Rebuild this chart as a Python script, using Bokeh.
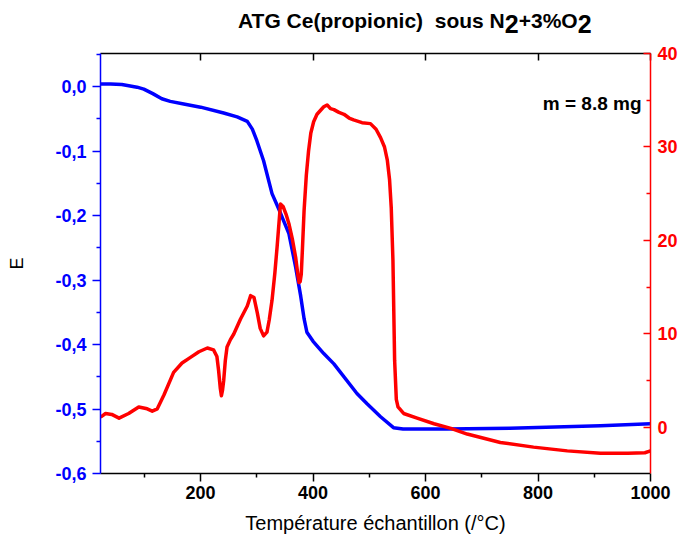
from bokeh.plotting import figure
from bokeh.models import Range1d, LinearAxis, FixedTicker, CustomJSTickFormatter, Label, Div
from bokeh.layouts import column
from bokeh.embed import file_html
from bokeh.resources import INLINE

# TGA (left axis, E)
T_tga = [22, 40, 60, 87, 99, 115, 131, 146, 170, 200, 241, 265, 283, 292, 300, 312, 327, 339,
         357, 369, 378, 384, 389, 400, 419, 437, 478, 496, 520, 543, 560, 638, 750, 911, 1000]
E_tga = [0.004, 0.004, 0.003, -0.001, -0.004, -0.011, -0.019, -0.023, -0.027, -0.032, -0.041,
         -0.047, -0.054, -0.066, -0.084, -0.115, -0.166, -0.19, -0.228, -0.28, -0.325, -0.36,
         -0.381, -0.395, -0.414, -0.43, -0.476, -0.492, -0.512, -0.529, -0.531, -0.531, -0.530,
         -0.526, -0.523]

# second signal (right axis)
T_dsc = [22, 31, 42, 55, 72, 90, 105, 114, 123, 135, 152, 167, 182, 197, 212, 223, 229, 232, 235,
         237, 239, 241, 244, 247, 253, 259, 271, 283, 289, 295, 301, 306, 312, 318, 322, 327, 332,
         336, 342, 347, 352, 357, 363, 369, 373, 375, 377, 379, 381, 384, 388, 392, 396, 401, 407,
         413, 419, 425, 431, 437, 446, 455, 464, 472, 487, 502, 512, 520, 527, 532, 536, 539, 542,
         545, 548, 551, 561, 585, 615, 645, 674, 733, 792, 852, 911, 960, 990, 1000]
R_dsc = [1.1, 1.5, 1.4, 1.0, 1.5, 2.2, 2.0, 1.75, 2.0, 3.5, 5.9, 6.9, 7.5, 8.1, 8.5, 8.3, 7.6, 6.1,
         4.2, 3.4, 4.0, 5.0, 7.2, 8.6, 9.4, 10.0, 11.6, 13.0, 14.1, 13.9, 12.2, 10.6, 9.8, 10.2,
         11.5, 13.6, 16.5, 19.3, 23.9, 23.6, 22.8, 21.8, 20.2, 18.2, 16.3, 15.5, 15.6, 16.4, 19.0,
         23.2, 27.0, 29.6, 31.5, 32.7, 33.5, 33.9, 34.3, 34.5, 34.1, 34.0, 33.7, 33.5, 33.1, 32.9,
         32.6, 32.5, 31.9, 31.0, 30.0, 28.6, 26.5, 23.5, 17.9, 7.2, 3.0, 2.2, 1.5, 1.0, 0.4, -0.1,
         -0.7, -1.6, -2.1, -2.5, -2.75, -2.75, -2.7, -2.5]

x_ticks = [200, 400, 600, 800, 1000]
x_minor = [100, 300, 500, 700, 900]
left_ticks = [-0.6, -0.5, -0.4, -0.3, -0.2, -0.1, 0.0]
left_minor = [-0.55, -0.45, -0.35, -0.25, -0.15, -0.05, 0.05]
right_ticks = [0, 10, 20, 30, 40]
right_minor = [5, 15, 25, 35]

FONT = "Liberation Sans"

title_html = (
    "<div style=\"font-family:'Liberation Sans',Arial,sans-serif;font-weight:bold;"
    "font-size:21px;line-height:24px;color:black;white-space:pre;"
    "padding-left:238px;padding-top:7px;\">"
    "ATG Ce(propionic)  sous N"
    "<span style='font-size:25px;position:relative;top:5px;'>2</span>"
    "+3%O"
    "<span style='font-size:25px;position:relative;top:5px;'>2</span>"
    "</div>"
)
title = Div(text=title_html, width=680, height=40, margin=0)

p = figure(width=680, height=498, output_backend="svg", toolbar_location=None,
           x_range=Range1d(22, 1000), y_range=Range1d(-0.6, 0.0512),
           min_border_left=100, min_border_right=30, min_border_top=13, min_border_bottom=65,
           margin=0)
p.extra_y_ranges = {"r": Range1d(-4.92, 40)}
p.outline_line_color = None
p.grid.visible = False
p.background_fill_color = "white"
p.border_fill_color = "white"

# bottom axis
xa = p.xaxis[0]
xa.ticker = FixedTicker(ticks=x_ticks, minor_ticks=x_minor)
xa.axis_line_color = "black"
xa.axis_line_width = 1.5
xa.major_tick_line_color = "black"
xa.minor_tick_line_color = "black"
xa.major_tick_line_width = 1.5
xa.minor_tick_line_width = 1.5
xa.major_tick_out = 8
xa.major_tick_in = 0
xa.minor_tick_out = 4
xa.minor_tick_in = 0
xa.major_label_text_font = FONT
xa.major_label_text_font_style = "bold"
xa.major_label_text_font_size = "18px"
xa.major_label_text_color = "black"
xa.major_label_standoff = 4
xa.axis_label = "Température échantillon (/°C)"
xa.axis_label_text_font = FONT
xa.axis_label_text_font_style = "normal"
xa.axis_label_text_font_size = "20px"
xa.axis_label_text_color = "black"
xa.axis_label_standoff = 10

# left axis
ya = p.yaxis[0]
ya.ticker = FixedTicker(ticks=left_ticks, minor_ticks=left_minor)
ya.formatter = CustomJSTickFormatter(code="return tick.toFixed(1).replace('.', ',');")
ya.axis_line_color = "blue"
ya.axis_line_width = 1.5
ya.major_tick_line_color = "blue"
ya.minor_tick_line_color = "blue"
ya.major_tick_line_width = 1.5
ya.minor_tick_line_width = 1.5
ya.major_tick_out = 8
ya.major_tick_in = 0
ya.minor_tick_out = 4
ya.minor_tick_in = 0
ya.major_label_text_font = FONT
ya.major_label_text_font_style = "bold"
ya.major_label_text_font_size = "18px"
ya.major_label_text_color = "blue"
ya.major_label_standoff = 6
ya.axis_label = "E"
ya.axis_label_text_font = FONT
ya.axis_label_text_font_style = "normal"
ya.axis_label_text_font_size = "18px"
ya.axis_label_text_color = "black"
ya.axis_label_standoff = 25

# right axis
ra = LinearAxis(y_range_name="r", ticker=FixedTicker(ticks=right_ticks, minor_ticks=right_minor))
ra.axis_line_color = "red"
ra.axis_line_width = 1.5
ra.major_tick_line_color = "red"
ra.minor_tick_line_color = "red"
ra.major_tick_line_width = 1.5
ra.minor_tick_line_width = 1.5
ra.major_tick_out = 0
ra.major_tick_in = 7
ra.minor_tick_out = 0
ra.minor_tick_in = 4
ra.major_label_text_font = FONT
ra.major_label_text_font_style = "bold"
ra.major_label_text_font_size = "18px"
ra.major_label_text_color = "red"
ra.major_label_standoff = 7
ra.axis_label_standoff = 0
p.add_layout(ra, "right")

# top axis (frame), ticks only
ta = LinearAxis(ticker=FixedTicker(ticks=x_ticks, minor_ticks=[]),
                formatter=CustomJSTickFormatter(code="return '';"))
ta.axis_line_color = "black"
ta.axis_line_width = 1.5
ta.major_tick_line_color = "black"
ta.major_tick_line_width = 1.5
ta.major_tick_out = 0
ta.major_tick_in = 7
ta.minor_tick_out = 0
ta.minor_tick_in = 0
ta.major_label_standoff = 0
ta.axis_label_standoff = 0
ta.major_label_text_font_size = "0px"
ta.major_label_text_alpha = 0
p.add_layout(ta, "above")

# curves
p.line(T_tga, E_tga, line_color="blue", line_width=3.5, line_join="round")
p.line(T_dsc, R_dsc, line_color="red", line_width=3.5, line_join="round", y_range_name="r")

p.add_layout(Label(x=984, y=-0.0264, text="m = 8.8 mg", text_font=FONT, text_font_style="bold",
                   text_font_size="19px", text_color="black", text_align="right",
                   text_baseline="alphabetic"))

layout = column(title, p, spacing=0, margin=0)
open("out.html", "w").write(file_html(layout, INLINE))
